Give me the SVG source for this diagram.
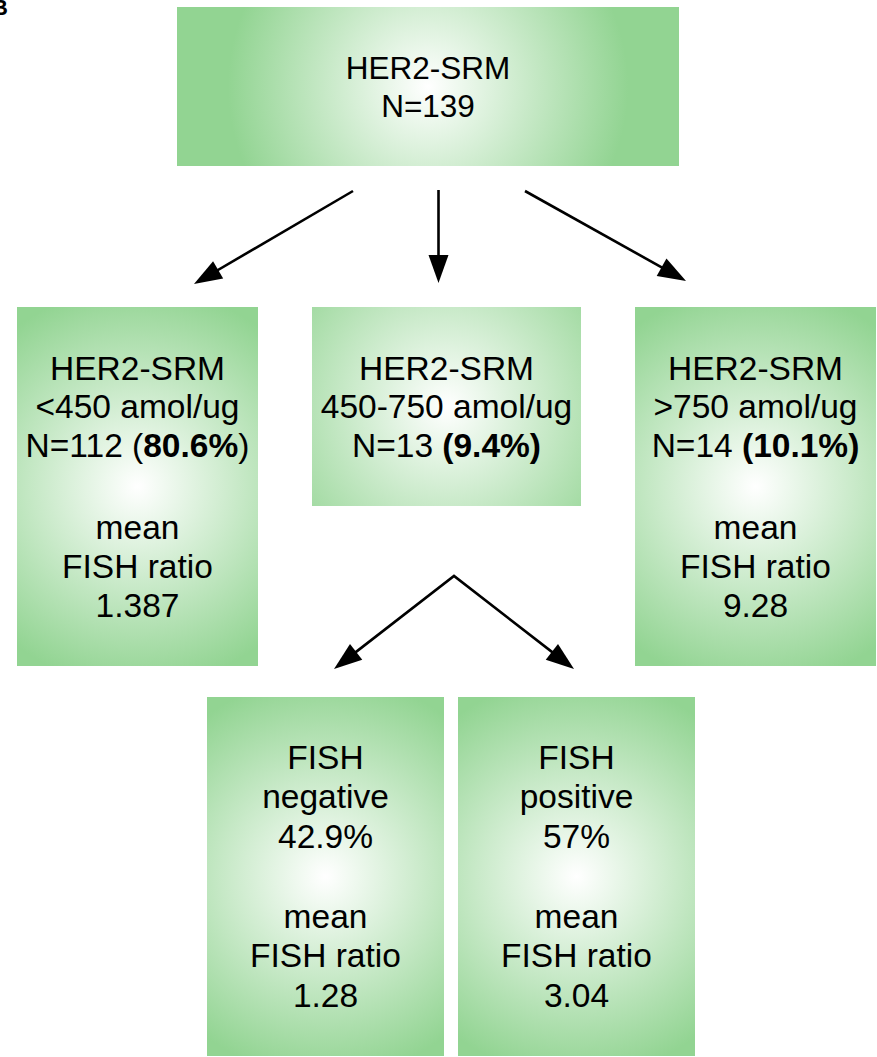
<svg xmlns="http://www.w3.org/2000/svg" xmlns:xlink="http://www.w3.org/1999/xlink" width="877" height="1057" viewBox="0 0 877 1057">
  <style>
    text { font-family: "Liberation Sans", Arial, Helvetica, sans-serif; fill: #000; text-anchor: middle; }
    .t1 { font-size: 31.5px; }
    .t2 { font-size: 33.5px; }
    .b { font-weight: bold; }
    .conn { fill: none; stroke: #000; stroke-width: 2.6; stroke-linejoin: miter; }
  </style>
  <defs>
    <!-- shared white-centre / green-edge fill; each box re-centres it -->
    <radialGradient id="gBase" gradientUnits="userSpaceOnUse" r="200">
      <stop offset="0" stop-color="#ffffff"/>
      <stop offset="1" stop-color="#92d492"/>
    </radialGradient>
    <radialGradient id="gTop" xlink:href="#gBase" cx="428" cy="86.5" fx="428" fy="86.5"/>
    <radialGradient id="gLeft" xlink:href="#gBase" cx="137.5" cy="486.5" fx="137.5" fy="486.5"/>
    <radialGradient id="gMid" xlink:href="#gBase" cx="446.5" cy="406.5" fx="446.5" fy="406.5"/>
    <radialGradient id="gRight" xlink:href="#gBase" cx="755.5" cy="486.5" fx="755.5" fy="486.5"/>
    <radialGradient id="gNeg" xlink:href="#gBase" cx="325.5" cy="876.5" fx="325.5" fy="876.5"/>
    <radialGradient id="gPos" xlink:href="#gBase" cx="576.5" cy="876.5" fx="576.5" fy="876.5"/>
    <marker id="arrow" markerUnits="userSpaceOnUse" markerWidth="28" markerHeight="20" refX="18" refY="10" orient="auto-start-reverse" overflow="visible">
      <path d="M0,0 L28,10 L0,20 Z" fill="#000"/>
    </marker>
  </defs>

  <rect width="877" height="1057" fill="#ffffff"/>

  <!-- panel letter, partly outside the left edge -->
  <text x="-8" y="15" font-size="22" font-weight="bold" style="text-anchor:start">B</text>

  <g id="node-total">
    <rect x="177" y="7" width="502" height="159" fill="url(#gTop)"/>
    <text class="t1" x="428" y="79">HER2-SRM</text>
    <text class="t1" x="428" y="117">N=139</text>
  </g>

  <g id="node-low">
    <rect x="17" y="307" width="241" height="359" fill="url(#gLeft)"/>
    <text class="t2" x="137.5" y="380">HER2-SRM</text>
    <text class="t2" x="137.5" y="418">&lt;450 amol/ug</text>
    <text class="t2" x="137.5" y="457">N=112 (<tspan class="b">80.6%</tspan>)</text>
    <text class="t2" x="137.5" y="539">mean</text>
    <text class="t2" x="137.5" y="578">FISH ratio</text>
    <text class="t2" x="137.5" y="617">1.387</text>
  </g>

  <g id="node-mid">
    <rect x="312" y="307" width="269" height="199" fill="url(#gMid)"/>
    <text class="t2" x="446.5" y="380">HER2-SRM</text>
    <text class="t2" x="446.5" y="418">450-750 amol/ug</text>
    <text class="t2" x="446.5" y="457">N=13 <tspan class="b">(9.4%)</tspan></text>
  </g>

  <g id="node-high">
    <rect x="635" y="307" width="241" height="359" fill="url(#gRight)"/>
    <text class="t2" x="755.5" y="380">HER2-SRM</text>
    <text class="t2" x="755.5" y="418">&gt;750 amol/ug</text>
    <text class="t2" x="755.5" y="457">N=14 <tspan class="b">(10.1%)</tspan></text>
    <text class="t2" x="755.5" y="539">mean</text>
    <text class="t2" x="755.5" y="578">FISH ratio</text>
    <text class="t2" x="755.5" y="617">9.28</text>
  </g>

  <g id="node-fish-neg">
    <rect x="207" y="697" width="237" height="359" fill="url(#gNeg)"/>
    <text class="t2" x="325.5" y="769">FISH</text>
    <text class="t2" x="325.5" y="808">negative</text>
    <text class="t2" x="325.5" y="848">42.9%</text>
    <text class="t2" x="325.5" y="928">mean</text>
    <text class="t2" x="325.5" y="967">FISH ratio</text>
    <text class="t2" x="325.5" y="1007">1.28</text>
  </g>

  <g id="node-fish-pos">
    <rect x="458" y="697" width="237" height="359" fill="url(#gPos)"/>
    <text class="t2" x="576.5" y="769">FISH</text>
    <text class="t2" x="576.5" y="808">positive</text>
    <text class="t2" x="576.5" y="848">57%</text>
    <text class="t2" x="576.5" y="928">mean</text>
    <text class="t2" x="576.5" y="967">FISH ratio</text>
    <text class="t2" x="576.5" y="1007">3.04</text>
  </g>

  <g id="connectors">
    <line class="conn" x1="353" y1="191" x2="202.6" y2="279" marker-end="url(#arrow)"/>
    <line class="conn" x1="438.5" y1="190" x2="438.5" y2="273" marker-end="url(#arrow)"/>
    <line class="conn" x1="525" y1="191" x2="677.3" y2="276.1" marker-end="url(#arrow)"/>
    <path class="conn" d="M341.9,662.9 L454,576 L566.1,662.9" marker-start="url(#arrow)" marker-end="url(#arrow)"/>
  </g>
</svg>
